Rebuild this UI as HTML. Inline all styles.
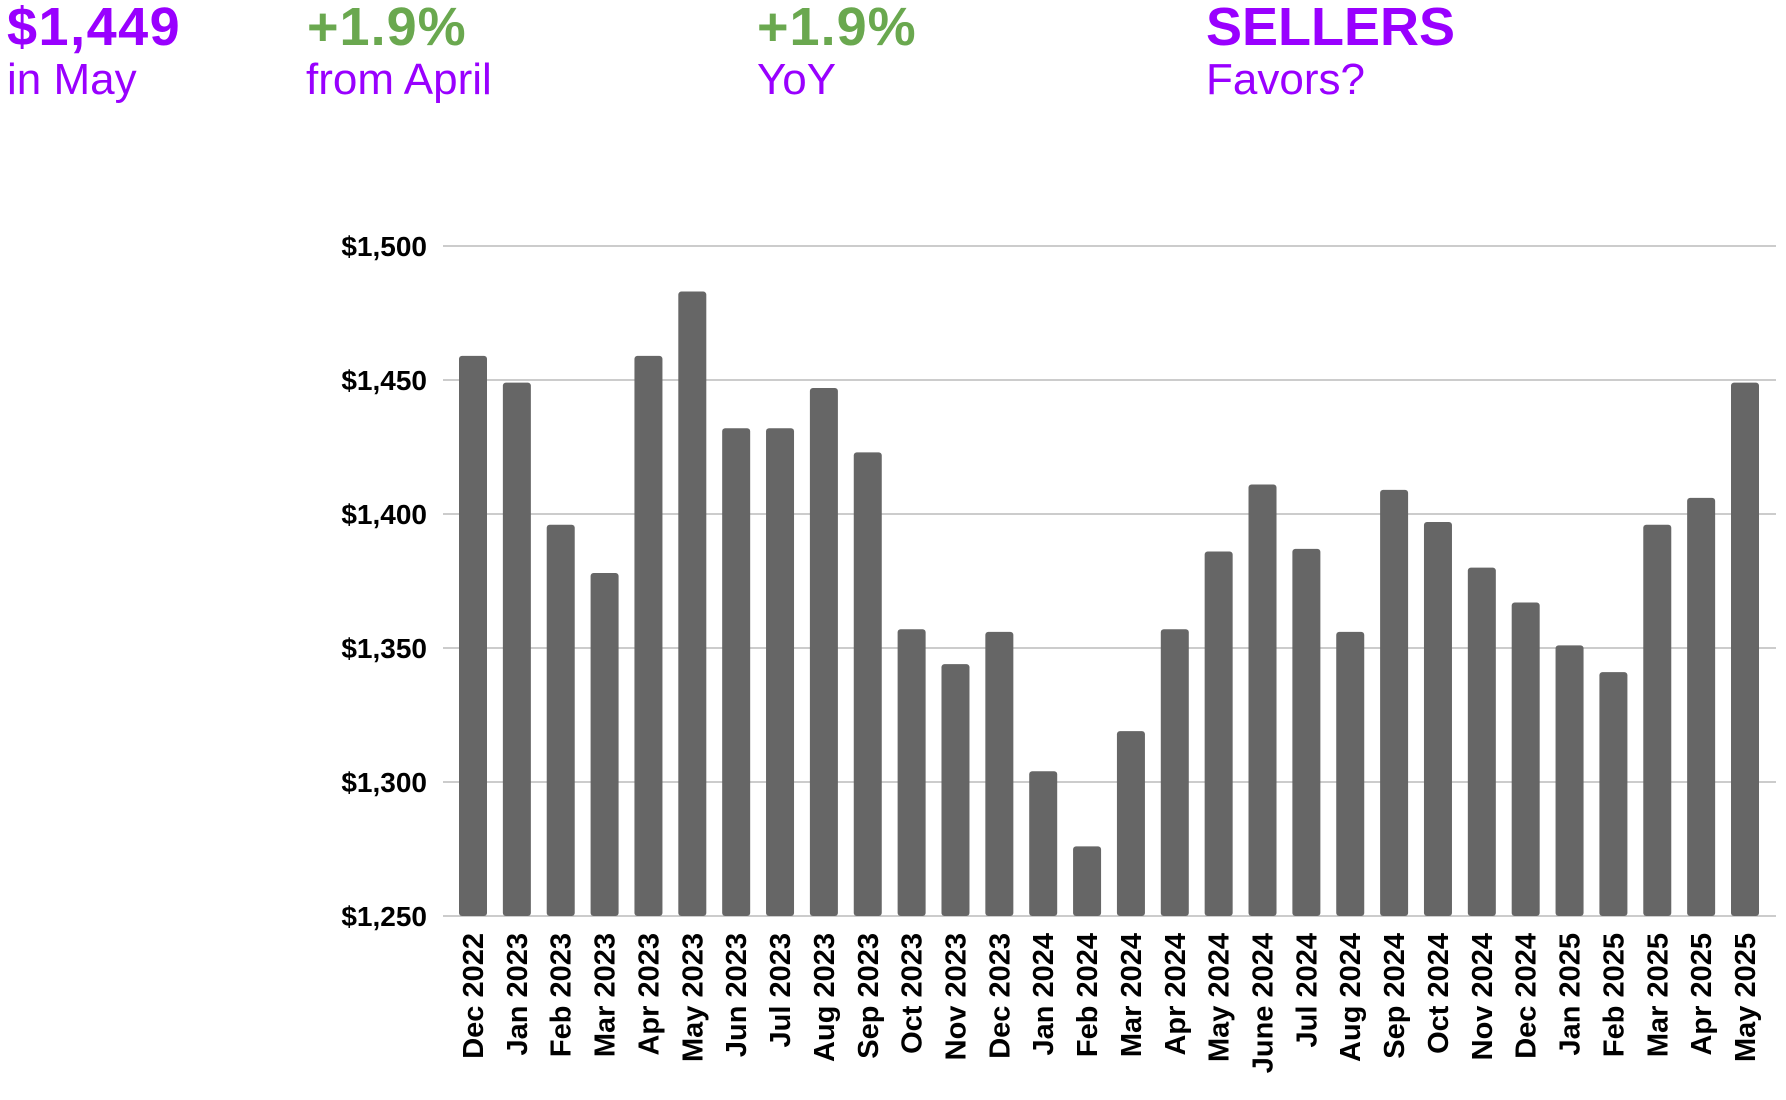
<!DOCTYPE html>
<html><head><meta charset="utf-8">
<style>
html,body{margin:0;padding:0;background:#fff;}
body{width:1786px;height:1100px;position:relative;overflow:hidden;font-family:"Liberation Sans",Arial,sans-serif;}
.big{position:absolute;top:0;font-weight:bold;font-size:54px;line-height:54px;}
.sub{position:absolute;top:56px;font-size:44px;line-height:48px;color:#9900ff;}
.p{color:#9900ff}.g{color:#6aa84f}
</style></head>
<body>
<div class="big p" style="left:7px;letter-spacing:1.5px">$1,449</div>
<div class="sub" style="left:7px">in May</div>
<div class="big g" style="left:307px;letter-spacing:1px">+1.9%</div>
<div class="sub" style="left:306px">from April</div>
<div class="big g" style="left:757px;letter-spacing:1px">+1.9%</div>
<div class="sub" style="left:757px">YoY</div>
<div class="big p" style="left:1206px">SELLERS</div>
<div class="sub" style="left:1206px">Favors?</div>
<svg id="chart" width="1786" height="1100" style="position:absolute;left:0;top:0"></svg>
<script>
const categories=["Dec 2022","Jan 2023","Feb 2023","Mar 2023","Apr 2023","May 2023","Jun 2023","Jul 2023","Aug 2023","Sep 2023","Oct 2023","Nov 2023","Dec 2023","Jan 2024","Feb 2024","Mar 2024","Apr 2024","May 2024","June 2024","Jul 2024","Aug 2024","Sep 2024","Oct 2024","Nov 2024","Dec 2024","Jan 2025","Feb 2025","Mar 2025","Apr 2025","May 2025"];
const values=[1459,1449,1396,1378,1459,1483,1432,1432,1447,1423,1357,1344,1356,1304,1276,1319,1357,1386,1411,1387,1356,1409,1397,1380,1367,1351,1341,1396,1406,1449];
const ticks=[1250,1300,1350,1400,1450,1500];
const tickLabels=["$1,250","$1,300","$1,350","$1,400","$1,450","$1,500"];
const svg=document.getElementById('chart');
const NS='http://www.w3.org/2000/svg';
const yMin=1250,yMax=1500,yTop=246,yBot=916;
const y=v=>yBot-(v-yMin)/(yMax-yMin)*(yBot-yTop);
const x0=473,x1=1745;
const x=i=>x0+i*(x1-x0)/(categories.length-1);
const bw=28;
ticks.forEach((t,i)=>{
  const l=document.createElementNS(NS,'line');
  
  
  l.setAttribute('x1',443);l.setAttribute('x2',1776);
  l.setAttribute('y1',y(t));l.setAttribute('y2',y(t));
  l.setAttribute('stroke','#cccccc');l.setAttribute('stroke-width','2');
  svg.appendChild(l);
  const tx=document.createElementNS(NS,'text');
  
  
  tx.setAttribute('x',427);tx.setAttribute('y',y(t)+10);
  tx.setAttribute('text-anchor','end');
  tx.setAttribute('font-family','Liberation Sans, Arial, sans-serif');
  tx.setAttribute('font-weight','bold');tx.setAttribute('font-size','28');
  tx.textContent=tickLabels[i];
  svg.appendChild(tx);
});
categories.forEach((c,i)=>{
  const r=document.createElementNS(NS,'rect');
  
  
  r.setAttribute('x',x(i)-bw/2);r.setAttribute('width',bw);
  r.setAttribute('y',y(values[i]));r.setAttribute('height',yBot-y(values[i]));
  r.setAttribute('rx','3');r.setAttribute('fill','#666666');
  svg.appendChild(r);
  const t=document.createElementNS(NS,'text');
  
  
  t.setAttribute('transform','translate('+(x(i)+10)+',933) rotate(-90)');
  t.setAttribute('text-anchor','end');
  t.setAttribute('font-family','Liberation Sans, Arial, sans-serif');
  t.setAttribute('font-weight','bold');t.setAttribute('font-size','29');
  t.textContent=c;
  svg.appendChild(t);
});
</script>
</body></html>
